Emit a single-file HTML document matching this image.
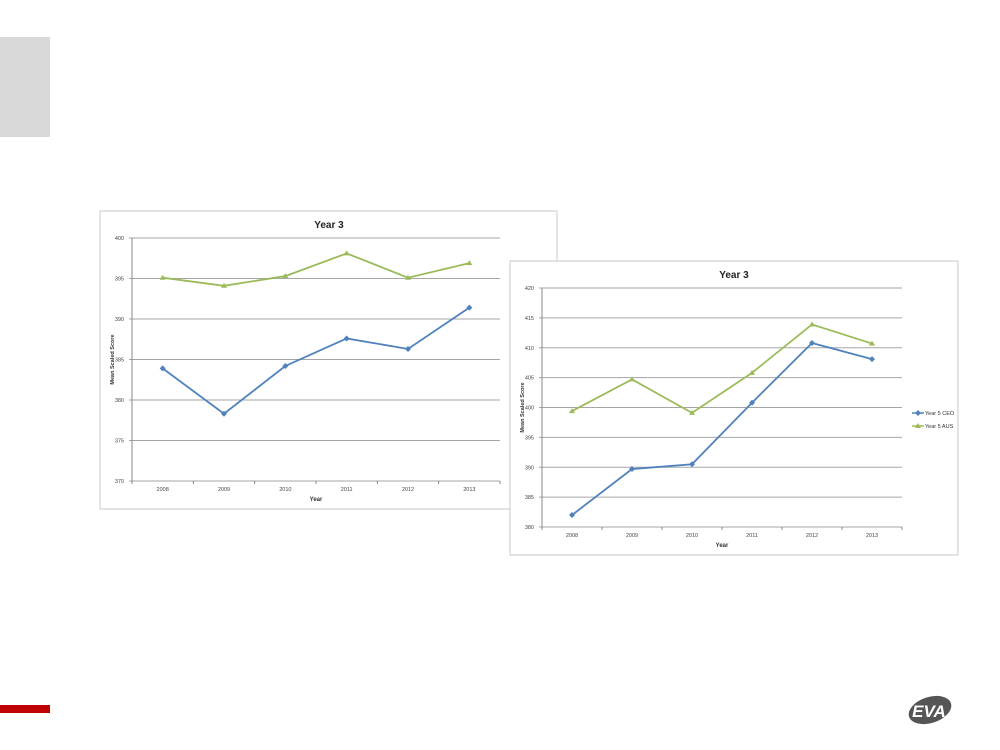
<!DOCTYPE html>
<html><head><meta charset="utf-8"><style>
body{margin:0;width:1000px;height:750px;background:#fff;position:relative;overflow:hidden;font-family:"Liberation Sans",sans-serif}
.abs{position:absolute}
</style></head><body>
<div class="abs" style="left:0;top:37px;width:50px;height:100px;background:#d9d9d9"></div>
<div class="abs" style="left:0;top:705px;width:50px;height:8px;background:#c00000"></div>
<svg class="abs" style="left:905px;top:692px" width="52" height="36">
<ellipse cx="25" cy="18" rx="22" ry="13" transform="rotate(-18 25 18)" fill="#555"/>
<text x="24" y="25" text-anchor="middle" font-size="17" font-weight="bold" font-style="italic" fill="#fff" font-family="Liberation Sans,sans-serif">EVA</text>
</svg>
<svg id="c" class="abs" style="left:0;top:0" width="1000" height="750"></svg>
<script>
const years = ["2008","2009","2010","2011","2012","2013"];
const chart1Green = [395.1, 394.1, 395.3, 398.1, 395.1, 396.9];
const chart1Blue = [383.9, 378.3, 384.2, 387.6, 386.3, 391.4];
const chart1Ticks = [370,375,380,385,390,395,400];
const chart2Green = [399.4, 404.7, 399.1, 405.8, 413.9, 410.7];
const chart2Blue = [382.0, 389.7, 390.5, 400.8, 410.8, 408.1];
const chart2Ticks = [380,385,390,395,400,405,410,415,420];
const legendLabels = ["Year 5 CEO","Year 5 AUS"];

const NS="http://www.w3.org/2000/svg";
const svg=document.getElementById('c');
function mk(tag,attrs,parent){const e=document.createElementNS(NS,tag);for(const k in attrs)e.setAttribute(k,attrs[k]);(parent||svg).appendChild(e);return e;}

function drawChart(cfg,blue,green,ticks,name){
  const g=mk('g',{});
  
  
  const fr=mk('rect',{x:cfg.bx,y:cfg.by,width:cfg.bw,height:cfg.bh,fill:'#fff',stroke:'#c8c8c8','stroke-width':1},g);
  
  
  const min=ticks[0],max=ticks[ticks.length-1];
  const y=v=>cfg.bottom-(v-min)/(max-min)*(cfg.bottom-cfg.top);
  const cw=(cfg.right-cfg.left)/years.length;
  const x=i=>cfg.left+cw*(i+0.5);
  ticks.forEach(t=>{
    const l=mk('line',{x1:cfg.left-3,x2:cfg.right,y1:y(t),y2:y(t),stroke:'#a6a6a6','stroke-width':1},g);
    
    
    const tx=mk('text',{x:cfg.left-8,y:y(t)+2,'font-size':5.5,'text-anchor':'end',fill:'#444'},g);
    tx.textContent=t;
    
    
  });
  mk('line',{x1:cfg.left,x2:cfg.left,y1:cfg.top,y2:cfg.bottom,stroke:'#888'},g);
  for(let i=0;i<=years.length;i++) mk('line',{x1:cfg.left+cw*i,x2:cfg.left+cw*i,y1:cfg.bottom,y2:cfg.bottom+3,stroke:'#888'},g);
  years.forEach((yr,i)=>{
    const t=mk('text',{x:x(i),y:cfg.bottom+10,'font-size':5.5,'text-anchor':'middle',fill:'#444'},g);
    t.textContent=yr;
    
    
  });
  const ti=mk('text',{x:cfg.tx,y:cfg.by+17,'font-size':10,'font-weight':'bold','text-anchor':'middle',fill:'#222'},g);
  ti.textContent='Year 3';
  
  
  const xt=mk('text',{x:(cfg.left+cfg.right)/2,y:cfg.bottom+20,'font-size':6,'font-weight':'bold','text-anchor':'middle',fill:'#333'},g);
  xt.textContent='Year';
  
  
  const cy=(cfg.top+cfg.bottom)/2;
  const yt=mk('text',{x:cfg.bx+14,y:cy,'font-size':5.5,'font-weight':'bold','text-anchor':'middle',fill:'#333',transform:`rotate(-90 ${cfg.bx+14} ${cy})`},g);
  yt.textContent='Mean Scaled Score';
  
  
  [[green,'#9bbb59','tri','series-aus'],[blue,'#4f81bd','dia','series-ceo']].forEach(([d,c,m,n])=>{
    const p=mk('polyline',{points:d.map((v,i)=>x(i)+','+y(v)).join(' '),fill:'none',stroke:c,'stroke-width':1.8},g);
    
    
    d.forEach((v,i)=>{
      const px=x(i),py=y(v);
      const pts=m==='tri'?`${px},${py-3} ${px+3},${py+2} ${px-3},${py+2}`:`${px},${py-3} ${px+3},${py} ${px},${py+3} ${px-3},${py}`;
      const mm=mk('polygon',{points:pts,fill:c},g);
      
      
    });
  });
  if(cfg.legend){
    [['#4f81bd','dia'],['#9bbb59','tri']].forEach(([c,m],k)=>{
      const ly=cfg.legend.y+k*13, lx=cfg.legend.x;
      const lg=mk('g',{},g);
      
      
      mk('line',{x1:lx,x2:lx+12,y1:ly,y2:ly,stroke:c,'stroke-width':1.5},lg);
      const px=lx+6;
      mk('polygon',{points:m==='tri'?`${px},${ly-3} ${px+3},${ly+2} ${px-3},${ly+2}`:`${px},${ly-3} ${px+3},${ly} ${px},${ly+3} ${px-3},${ly}`,fill:c},lg);
      const t=mk('text',{x:lx+13,y:ly+2,'font-size':5.5,fill:'#333'},lg);
      t.textContent=legendLabels[k];
    });
  }
}
drawChart({bx:100,by:211,bw:457,bh:298,left:132,right:500,top:238,bottom:481,tx:329},chart1Blue,chart1Green,chart1Ticks,'chart-left');
drawChart({bx:510,by:261,bw:448,bh:294,left:542,right:902,top:288,bottom:527,tx:734,legend:{x:912,y:413}},chart2Blue,chart2Green,chart2Ticks,'chart-right');
</script>
</body></html>
